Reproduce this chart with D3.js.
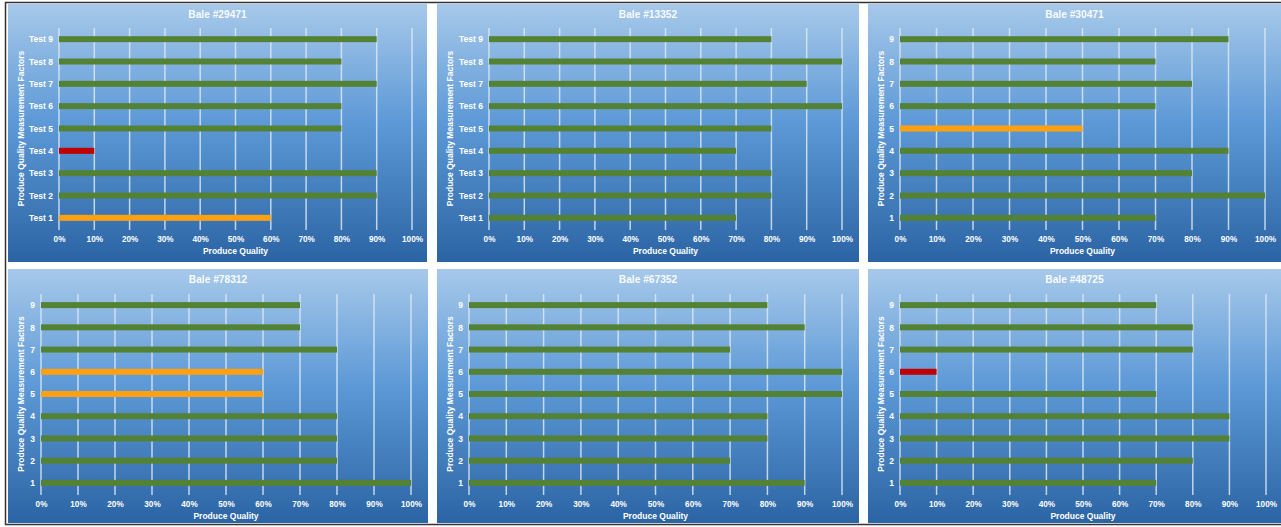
<!DOCTYPE html>
<html>
<head>
<meta charset="utf-8">
<script src="https://cdn.jsdelivr.net/npm/d3@7"></script>
<style>
  body { margin: 0; background: #fff; }
  text { font-family: "Liberation Sans", Arial, sans-serif; font-weight: bold; fill: #fff; }
</style>
</head>
<body>
<div id="chart"></div>
<script>
// data
const titles = ["Bale #29471", "Bale #13352", "Bale #30471", "Bale #78312", "Bale #67352", "Bale #48725"];
const testLabels = ["Test 1", "Test 2", "Test 3", "Test 4", "Test 5", "Test 6", "Test 7", "Test 8", "Test 9"];
const numLabels = ["1", "2", "3", "4", "5", "6", "7", "8", "9"];
const xTicks = [0, 0.1, 0.2, 0.3, 0.4, 0.5, 0.6, 0.7, 0.8, 0.9, 1];

const bale29471 = [0.6, 0.9, 0.9, 0.1, 0.8, 0.8, 0.9, 0.8, 0.9];
const bale13352 = [0.7, 0.8, 0.8, 0.7, 0.8, 1.0, 0.9, 1.0, 0.8];
const bale30471 = [0.7, 1.0, 0.8, 0.9, 0.5, 0.7, 0.8, 0.7, 0.9];
const bale78312 = [1.0, 0.8, 0.8, 0.8, 0.6, 0.6, 0.8, 0.7, 0.7];
const bale67352 = [0.9, 0.7, 0.8, 0.8, 1.0, 1.0, 0.7, 0.9, 0.8];
const bale48725 = [0.7, 0.8, 0.9, 0.9, 0.7, 0.1, 0.8, 0.8, 0.7];

const series = [bale29471, bale13352, bale30471, bale78312, bale67352, bale48725];
const categories = [testLabels, testLabels, numLabels, numLabels, numLabels, numLabels];

const W = 1281, H = 527;

// panel boxes and plot areas
const panels = [
  {x0: 8,   x1: 427,  y0: 4,   y1: 262, px0: 59,  px1: 412,  py0: 28,  py1: 229},
  {x0: 437, x1: 859,  y0: 4,   y1: 262, px0: 489, px1: 842,  py0: 28,  py1: 229},
  {x0: 868, x1: 1281, y0: 4,   y1: 262, px0: 900, px1: 1265, py0: 28,  py1: 229},
  {x0: 8,   x1: 428,  y0: 269, y1: 523, px0: 41,  px1: 411,  py0: 294, py1: 494},
  {x0: 437, x1: 859,  y0: 269, y1: 523, px0: 469, px1: 842,  py0: 294, py1: 494},
  {x0: 868, x1: 1281, y0: 269, y1: 523, px0: 900, px1: 1266, py0: 294, py1: 494}
];

function barColor(v) {
  if (v < 0.3) return "#c00000";
  if (v < 0.7) return "#ffa010";
  return "#548235";
}

const svg = d3.select("#chart").append("svg")
  .attr("width", W)
  .attr("height", H);

const grad = svg.append("defs").append("linearGradient")
  .attr("id", "bg")
  .attr("x1", 0).attr("y1", 0).attr("x2", 0).attr("y2", 1);
grad.append("stop").attr("offset", "0%").attr("stop-color", "#a7c9ea");
grad.append("stop").attr("offset", "45%").attr("stop-color", "#5e9ad7");
grad.append("stop").attr("offset", "100%").attr("stop-color", "#2b64a4");

// outer frame
svg.append("path")
  .attr("d", `M${W},2.5 H5.5 V524.5 H${W}`)
  .attr("fill", "none")
  .attr("stroke", "#333")
  .attr("stroke-width", 1.5);

panels.forEach((p, i) => {
  const vals = series[i];
  const cats = categories[i];
  const rows = cats.map((c, j) => ({cat: c, val: vals[j]}));

  const g = svg.append("g");

  g.append("rect")
    .attr("x", p.x0).attr("y", p.y0)
    .attr("width", p.x1 - p.x0).attr("height", p.y1 - p.y0)
    .attr("fill", "url(#bg)");

  const x = d3.scaleLinear().domain([0, 1]).range([p.px0, p.px1]);
  const y = d3.scalePoint().domain(cats.slice().reverse()).range([p.py0, p.py1]).padding(0.5);

  // gridlines
  g.selectAll(".grid")
    .data(xTicks)
    .enter().append("line")
      .attr("x1", d => x(d)).attr("x2", d => x(d))
      .attr("y1", p.py0).attr("y2", p.py1 + 1)
      .attr("stroke", "#dbe8f6")
      .attr("stroke-opacity", 0.85)
      .attr("stroke-width", 1.5);

  // bars
  g.selectAll(".bar")
    .data(rows)
    .enter().append("rect")
      .attr("x", x(0))
      .attr("y", d => y(d.cat) - 3)
      .attr("width", d => x(d.val) - x(0))
      .attr("height", 6)
      .attr("fill", d => barColor(d.val));

  const xAxis = d3.axisBottom(x)
    .tickValues(xTicks)
    .tickFormat(d3.format(".0%"))
    .tickSize(0)
    .tickPadding(7);
  const xg = g.append("g")
    .attr("transform", `translate(0,${p.py1})`)
    .call(xAxis);
  xg.select(".domain").remove();
  xg.selectAll("text").attr("font-size", 8.2).attr("fill", "#fff")
    .style("font-family", "Liberation Sans, Arial, sans-serif");

  const yAxis = d3.axisLeft(y).tickSize(0).tickPadding(6);
  const yg = g.append("g")
    .attr("transform", `translate(${p.px0},0)`)
    .call(yAxis);
  yg.select(".domain").remove();
  yg.selectAll("text").attr("font-size", 8.5).attr("fill", "#fff")
    .style("font-family", "Liberation Sans, Arial, sans-serif");

  g.append("text")
    .attr("x", (p.x0 + p.x1) / 2)
    .attr("y", p.y0 + 13.5)
    .attr("text-anchor", "middle")
    .attr("font-size", 10.2)
    .attr("fill-opacity", 0.95)
    .text(titles[i]);

  g.append("text")
    .attr("x", (p.px0 + p.px1) / 2)
    .attr("y", p.py1 + 25)
    .attr("text-anchor", "middle")
    .attr("font-size", 8.5)
    .text("Produce Quality");

  g.append("text")
    .attr("transform", `translate(${p.x0 + 16},${(p.py0 + p.py1) / 2}) rotate(-90)`)
    .attr("text-anchor", "middle")
    .attr("font-size", 8.5)
    .text("Produce Quality Measurement Factors");
});
</script>
</body>
</html>
